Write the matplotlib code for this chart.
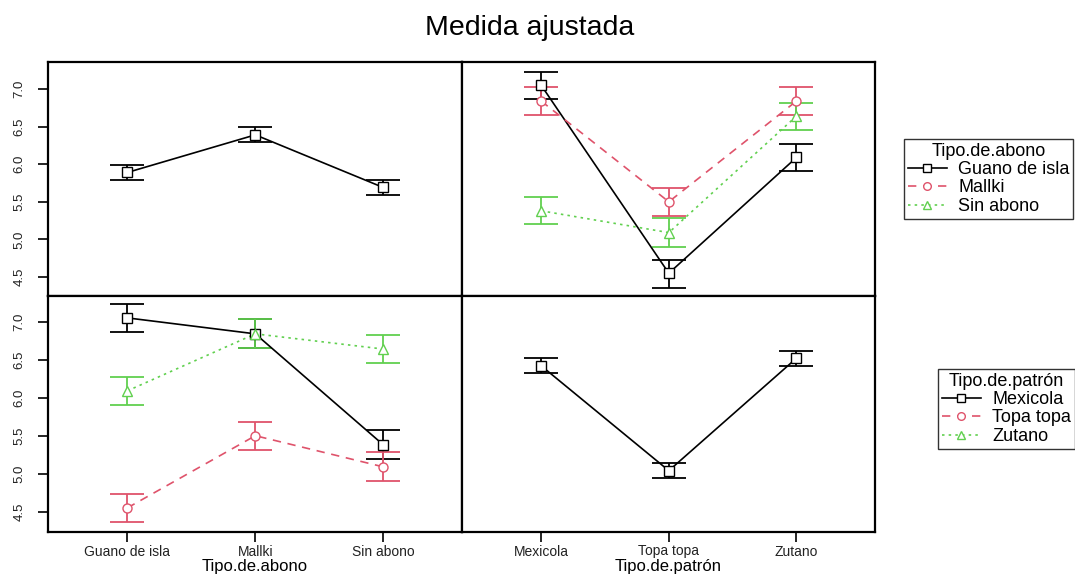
import matplotlib
matplotlib.use("Agg")
import matplotlib.pyplot as plt
from matplotlib.lines import Line2D

plt.rcParams['font.family'] = ['Liberation Sans', 'DejaVu Sans']

abono = ["Guano de isla", "Mallki", "Sin abono"]
patron = ["Mexicola", "Topa topa", "Zutano"]

# marginal means by abono
abono_fit = [5.89, 6.39, 5.69]
abono_lo = [5.79, 6.29, 5.59]
abono_hi = [5.99, 6.49, 5.79]

# marginal means by patron
patron_fit = [6.42, 5.04, 6.52]
patron_lo = [6.32, 4.94, 6.42]
patron_hi = [6.52, 5.14, 6.62]

# interaction: rows = abono, columns = patron
inter_fit = {
    "Guano de isla": [7.05, 4.55, 6.09],
    "Mallki": [6.84, 5.50, 6.84],
    "Sin abono": [5.38, 5.09, 6.64],
}
inter_lo = {
    "Guano de isla": [6.87, 4.36, 5.91],
    "Mallki": [6.66, 5.31, 6.66],
    "Sin abono": [5.20, 4.90, 6.45],
}
inter_hi = {
    "Guano de isla": [7.23, 4.73, 6.27],
    "Mallki": [7.03, 5.68, 7.03],
    "Sin abono": [5.57, 5.28, 6.82],
}

colors = ["black", "#DF536B", "#61D04F"]
styles = ["-", (0, (5, 4)), (0, (1.5, 2.5))]
markers = ["s", "o", "^"]

W, H = 1075, 575
fig = plt.figure(figsize=(W / 100, H / 100), dpi=100)
L, M, R = 48 / W, 462 / W, 875 / W
T, MID, B = 1 - 62 / H, 1 - 296 / H, 1 - 532 / H

ax_tl = fig.add_axes([L, MID, M - L, T - MID])
ax_tr = fig.add_axes([M, MID, R - M, T - MID])
ax_bl = fig.add_axes([L, B, M - L, MID - B])
ax_br = fig.add_axes([M, B, R - M, MID - B])

ylim_t = (4.247, 7.359)
ylim_b = (4.233, 7.338)
xlim = (0.38, 3.615)

def draw(ax, fit, lo, hi, idx):
    x = [1, 2, 3]
    c = colors[idx]
    yerr = [[f - l for f, l in zip(fit, lo)], [h - f for f, h in zip(fit, hi)]]
    ax.errorbar(x, fit, yerr=yerr, fmt='none', ecolor=c, elinewidth=1.3,
                capsize=12, capthick=1.3, zorder=2)
    ax.plot(x, fit, color=c, linestyle=styles[idx], linewidth=1.2, zorder=3)
    ax.plot(x, fit, linestyle='none', marker=markers[idx], markersize=6.5,
            markerfacecolor='white', markeredgecolor=c, markeredgewidth=1.0, zorder=4)

draw(ax_tl, abono_fit, abono_lo, abono_hi, 0)
for i, a in enumerate(abono):
    draw(ax_tr, inter_fit[a], inter_lo[a], inter_hi[a], i)
for j, p in enumerate(patron):
    fit = [inter_fit[a][j] for a in abono]
    lo = [inter_lo[a][j] for a in abono]
    hi = [inter_hi[a][j] for a in abono]
    draw(ax_bl, fit, lo, hi, j)
draw(ax_br, patron_fit, patron_lo, patron_hi, 0)

for ax in (ax_tl, ax_tr):
    ax.set_ylim(*ylim_t)
for ax in (ax_bl, ax_br):
    ax.set_ylim(*ylim_b)
for ax in (ax_tl, ax_tr, ax_bl, ax_br):
    ax.set_xlim(*xlim)

yt = [4.5, 5.0, 5.5, 6.0, 6.5, 7.0]
for ax in (ax_tl, ax_tr, ax_bl, ax_br):
    for s in ax.spines.values():
        s.set_linewidth(1.6)
        s.set_color("black")
    ax.tick_params(direction='out', length=7.5, width=1.2, colors='black',
                   labelcolor='#222222')
    ax.set_xticks([1, 2, 3])
    ax.set_yticks(yt)

for ax in (ax_tl, ax_bl):
    ax.set_yticklabels([f"{v:.1f}" for v in yt], rotation=90, va='center')
    ax.tick_params(axis='y', pad=8.5, labelsize=9.5)
for ax in (ax_tr, ax_br):
    ax.tick_params(axis='y', left=False, labelleft=False)
for ax in (ax_tl, ax_tr):
    ax.tick_params(axis='x', bottom=False, labelbottom=False)

ax_bl.set_xticklabels(abono)
ax_br.set_xticklabels(patron)
for ax in (ax_bl, ax_br):
    ax.tick_params(axis='x', pad=1.5, labelsize=10)
ax_bl.set_xlabel("Tipo.de.abono", fontsize=12, va='center')
ax_br.set_xlabel("Tipo.de.patrón", fontsize=12, va='center')
hb = 532 - 296
for ax in (ax_bl, ax_br):
    ax.xaxis.set_label_coords(0.5, -(567 - 532) / hb)

fig.text(530 / W, 1 - 35 / H, "Medida ajustada", ha='center', va='baseline', fontsize=20.5)

def handles():
    h = []
    for i in range(3):
        h.append(Line2D([], [], color=colors[i], linestyle=styles[i], linewidth=1.2,
                        marker=markers[i], markersize=5.5, markerfacecolor='white',
                        markeredgecolor=colors[i]))
    return h

def add_legend(labels, title, x, y):
    leg = fig.legend(handles(), labels, title=title, loc='upper left',
                     bbox_to_anchor=(x / W, 1 - y / H), fontsize=13,
                     title_fontsize=13, frameon=True, fancybox=False,
                     handlelength=2.2, borderpad=0.2, labelspacing=0.08,
                     handletextpad=0.6, borderaxespad=0)
    leg.get_frame().set_edgecolor('black')
    leg.get_frame().set_linewidth(1.0)
    return leg

add_legend(abono, "Tipo.de.abono", 904, 139)
add_legend(patron, "Tipo.de.patrón", 938, 369)

fig.savefig("out.png", dpi=100)
